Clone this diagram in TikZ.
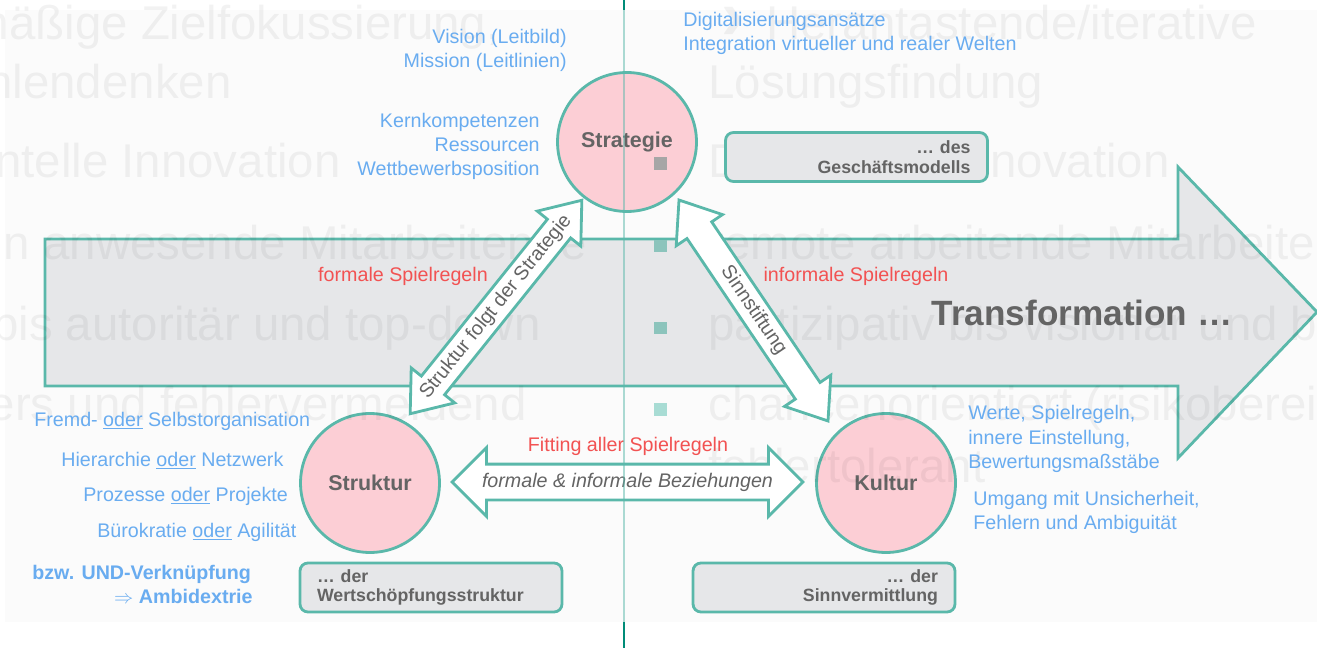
\documentclass[tikz,border=0pt]{standalone}
\usepackage{fontspec}
\setmainfont{Liberation Sans}
\usepackage{tikz}
\usetikzlibrary{shapes.arrows,positioning,calc}
\definecolor{rimTeal}{RGB}{90,184,170}
\definecolor{lineTeal}{RGB}{0,140,120}
\definecolor{circPink}{RGB}{252,206,213}
\definecolor{boxGray}{RGB}{230,231,233}
\definecolor{txtGray}{RGB}{100,100,100}
\definecolor{noteBlue}{RGB}{105,172,240}
\definecolor{ruleRed}{RGB}{242,82,82}
\definecolor{panelGray}{RGB}{251,251,251}
\definecolor{sqGray}{RGB}{166,166,166}
\definecolor{sqTeal}{RGB}{140,196,188}
\definecolor{sqMint}{RGB}{168,220,212}
\tikzset{
  pillar/.style={circle,draw=rimTeal,fill=circPink,line width=1.6pt,
                 minimum size=2.78cm,inner sep=0pt,text=txtGray,
                 font=\fontsize{12.2}{14}\selectfont\bfseries},
  modelBox/.style={rectangle,rounded corners=4.5pt,draw=rimTeal,fill=boxGray,
                   line width=1.6pt,inner xsep=0.34cm,inner ysep=0pt,
                   text width=4.56cm,minimum height=0.98cm,text=txtGray,
                   font=\fontsize{10.1}{11.3}\selectfont\bfseries},
  blueNote/.style={inner sep=0pt,text=noteBlue,font=\fontsize{11.2}{13.6}\selectfont},
  blueBold/.style={inner sep=0pt,text=noteBlue,font=\fontsize{11.2}{13.6}\selectfont\bfseries},
  redRule/.style={inner sep=0pt,text=ruleRed,font=\fontsize{11.2}{13.6}\selectfont},
  ghostText/.style={inner sep=0pt,text=black,text opacity=0.05,
                    font=\fontsize{27}{30}\selectfont},
  linkArrow/.style={double arrow,draw=rimTeal,fill=white,line width=1.6pt,
                    inner xsep=0pt,double arrow tip angle=#1},
  linkText/.style={inner sep=0pt,text=txtGray,font=\fontsize{11.2}{13.6}\selectfont},
  markSq/.style={rectangle,minimum size=0.26cm,inner sep=0pt},
}
\begin{document}
\begin{tikzpicture}[x=0.02cm,y=-0.02cm]
  \useasboundingbox (0,0) rectangle (1317,648);
  \fill[panelGray] (5,10) rectangle (1317,622);

  % transformation arrow
  \draw[rimTeal,line width=1.6pt,fill=boxGray] (45,239) -- (1178,239) -- (1178,167)
    -- (1317,312) -- (1178,458) -- (1178,386) -- (45,386) -- cycle;

  % the three pillars
  \node[pillar] (strat) at (627,142) {Strategie};
  \node[pillar] (struk) at (370,483) {Struktur};
  \node[pillar] (kult) at (886,483) {Kultur};

  % faint keywords behind
  \begin{scope}
    \clip (0,0) rectangle (1317,648);
    \foreach \t/\x/\y [count=\i] in {{mäßige Zielfokussierung,}/500/40,hlendenken/232/99,
        ntelle Innovation/341/178,n anwesende Mitarbeitende/587/260,
        bis autoritär und top-down/541/340,ers und fehlervermeidend/527/420}
      \node[ghostText,anchor=base east] (oldWay\i) at (\x,\y) {\t};
    \foreach \t/\x/\y [count=\i] in {{Herantastende/iterative}/766/40,Lösungsfindung/708/99,
        Durchbruchinnovation/708/178,remote arbeitende Mitarbeite/708/260,
        partizipativ bis visionär und b/708/340,chancenorientiert (risikoberei/708/420,
        fehlertolerant/708/482}
      \node[ghostText,anchor=base west] (newWay\i) at (\x,\y) {\t};
    \node[ghostText,anchor=base,font=\fontsize{40}{40}\selectfont\bfseries] (chev) at (733,40) {›};
  \end{scope}

  % double arrows between the pillars
  \node[linkArrow=75,minimum height=5.48cm,minimum width=1.08cm,inner ysep=0.27cm,
        double arrow head extend=0.26cm,rotate=51.2] (follow) at (496,307) {};
  \node[linkText,rotate=51.2] (followTxt) at (follow.center) {Struktur folgt der Strategie};
  \node[linkArrow=75,minimum height=5.33cm,minimum width=1.08cm,inner ysep=0.27cm,
        double arrow head extend=0.26cm,rotate=-56] (sense) at (753.5,310.5) {};
  \node[linkText,rotate=-56] (senseTxt) at (sense.center) {Sinnstiftung};
  \node[linkArrow=90,minimum height=7.02cm,minimum width=1.32cm,inner ysep=0.33cm,
        double arrow head extend=0.33cm] (fit) at (627.5,482) {};
  \node[linkText,font=\fontsize{11.2}{13.6}\selectfont\itshape] (fitTxt) at (fit.center)
      {formale \& informale Beziehungen};

  % model boxes
  \node[modelBox,align=right] (gesch) at (856.5,157) {… des\\Geschäftsmodells};
  \node[modelBox,align=left] (wert) at (431,587.5) {… der\\Wertschöpfungsstruktur};
  \node[modelBox,align=right] (sinn) at (824,587.5) {… der\\Sinnvermittlung};

  \node[font=\fontsize{20}{24}\selectfont\bfseries,text=txtGray] (trans) at (1082,313)
      {Transformation …};

  % red rules
  \node[redRule] (formRule) at (403,276) {formale Spielregeln};
  \node[redRule] (infRule) at (856,276) {informale Spielregeln};
  \node[redRule] (fitRule) at (628,446) {Fitting aller Spielregeln};

  % blue notes
  \foreach \t/\y [count=\i] in {Vision (Leitbild)/44,Mission (Leitlinien)/68}
    \node[blueNote,anchor=base east] (vis\i) at (567,\y) {\t};
  \foreach \t/\y [count=\i] in {Kernkompetenzen/128,Ressourcen/152,Wettbewerbsposition/176}
    \node[blueNote,anchor=base east] (res\i) at (540,\y) {\t};
  \foreach \t/\y [count=\i] in {Digitalisierungsansätze/27,Integration virtueller und realer Welten/51}
    \node[blueNote,anchor=base west] (dig\i) at (683,\y) {\t};
  \foreach \one/\two/\x/\y [count=\i] in {Fremd-/Selbstorganisation/34/426,
      Hierarchie/Netzwerk/61/466,Prozesse/Projekte/83/501,Bürokratie/Agilität/97/537}
    \node[blueNote,anchor=base west] (org\i) at (\x,\y) {\one{} \underline{oder} \two};
  \node[blueBold,anchor=base west] (und) at (32,579) {bzw. UND-Verknüpfung};
  \node[blueBold,anchor=base east] (ambi) at (253,603) {$\Rightarrow$ Ambidextrie};
  \foreach \t/\y [count=\i] in {{Werte, Spielregeln,}/419,{innere Einstellung,}/444,
      Bewertungsmaßstäbe/468}
    \node[blueNote,anchor=base west] (val\i) at (968,\y) {\t};
  \foreach \t/\y [count=\i] in {{Umgang mit Unsicherheit,}/505,Fehlern und Ambiguität/529}
    \node[blueNote,anchor=base west] (amb\i) at (973,\y) {\t};

  % little squares
  \foreach \y/\c [count=\i] in {164/sqGray,246/sqTeal,328/sqTeal,409/sqMint}
    \node[markSq,fill=\c] (mark\i) at (660,\y) {};

  % middle line
  \draw[lineTeal,line width=1.2pt] (624,0) -- (624,10);
  \draw[lineTeal,line width=1.2pt] (624,622) -- (624,648);
  \draw[rimTeal,line width=1.2pt,opacity=0.5] (624,10) -- (624,622);
\end{tikzpicture}
\end{document}
